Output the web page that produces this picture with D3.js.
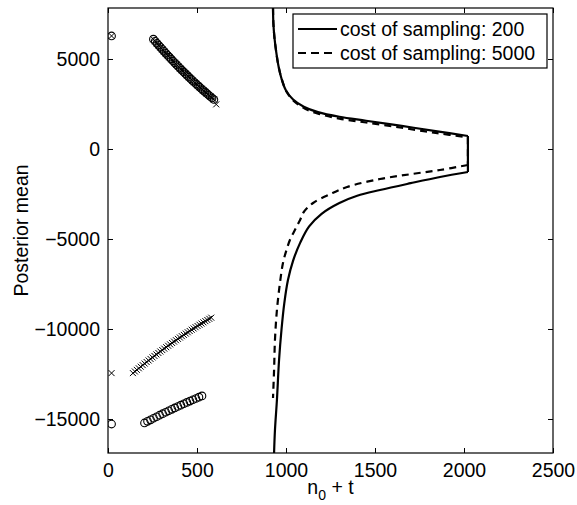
<!DOCTYPE html>
<html><head><meta charset="utf-8">
<script src="https://cdn.jsdelivr.net/npm/d3@7"></script>
<style>body{margin:0;background:#fff}svg{display:block}</style>
</head><body>
<script>
// ---- data ----
const xTicks = [0, 500, 1000, 1500, 2000, 2500];
const yTicks = [-15000, -10000, -5000, 0, 5000];
const xDomain = [0, 2500];
const yDomain = [-16889, 7833];

// solid line: cost of sampling 200 (upper branch, then lower branch; joined by a vertical segment)
const solidUpX = [927, 929, 935, 945, 958, 975, 1000, 1040, 1100, 1180, 1300, 1450, 1650, 1850, 2022];
const solidUpY = [7833, 7000, 6200, 5400, 4600, 3900, 3250, 2750, 2350, 2050, 1790, 1570, 1280, 980, 722];
const solidLoX = [2022, 1865, 1700, 1528, 1400, 1300, 1200, 1130, 1080, 1040, 1011, 990, 975, 961, 949, 938, 933];
const solidLoY = [-1278, -1556, -1900, -2278, -2600, -3000, -3600, -4300, -5200, -6200, -7278, -8600, -10000, -11722, -13944, -15611, -16889];
// dashed line: cost of sampling 5000
const dashUpX = [927, 929, 935, 945, 958, 977, 1003, 1045, 1105, 1185, 1300, 1450, 1650, 1850, 2022];
const dashUpY = [7833, 7000, 6200, 5400, 4600, 3850, 3180, 2660, 2250, 1950, 1690, 1470, 1180, 880, 650];
const dashLoX = [2022, 1865, 1700, 1528, 1343, 1250, 1152, 1100, 1079, 1050, 1022, 1000, 983, 966, 949, 938, 933, 927];
const dashLoY = [-889, -1167, -1400, -1667, -2111, -2500, -3000, -3500, -3944, -4500, -5056, -5700, -6333, -7444, -8944, -10611, -12278, -13833];

// circle markers
const circX = [20, 255, 265, 275, 285, 295, 305, 315, 325, 335, 345, 355, 365, 375, 385, 395, 405, 415, 425, 435, 445, 455, 465, 475, 485, 495, 505, 515, 525, 535, 545, 555, 565, 575, 585, 595,
  20, 205, 222, 239, 256, 273, 290, 307, 324, 341, 358, 375, 392, 409, 426, 443, 460, 477, 494, 511, 528];
const circY = [6280, 6100, 5985, 5871, 5758, 5646, 5535, 5425, 5316, 5208, 5101, 4995, 4890, 4786, 4683, 4581, 4480, 4380, 4281, 4183, 4086, 3990, 3895, 3801, 3708, 3616, 3525, 3435, 3346, 3258, 3171, 3085, 3000, 2916, 2833, 2751,
  -15280, -15220, -15132, -15045, -14959, -14874, -14790, -14707, -14625, -14544, -14464, -14385, -14307, -14230, -14154, -14079, -14005, -13932, -13860, -13789, -13719];

// cross markers
const crossX = [20, 255, 265, 275, 285, 295, 305, 315, 325, 335, 345, 355, 365, 375, 385, 395, 405, 415, 425, 435, 445, 455, 465, 475, 485, 495, 505, 515, 525, 535, 545, 555, 565, 575, 585, 595, 608,
  20, 140, 151, 162, 173, 184, 195, 206, 217, 228, 239, 250, 261, 272, 283, 294, 305, 316, 327, 338, 349, 360, 371, 382, 393, 404, 415, 426, 437, 448, 459, 470, 481, 492, 503, 514, 525, 536, 547, 558, 569, 580];
const crossY = [6280, 6100, 5985, 5871, 5758, 5646, 5535, 5425, 5316, 5208, 5101, 4995, 4890, 4786, 4683, 4581, 4480, 4380, 4281, 4183, 4086, 3990, 3895, 3801, 3708, 3616, 3525, 3435, 3346, 3258, 3171, 3085, 3000, 2916, 2833, 2751, 2480,
  -12450, -12450, -12360, -12271, -12182, -12094, -12007, -11920, -11834, -11749, -11664, -11580, -11497, -11414, -11332, -11251, -11170, -11090, -11011, -10932, -10854, -10777, -10700, -10624, -10549, -10474, -10400, -10327, -10254, -10182, -10111, -10040, -9970, -9901, -9832, -9764, -9697, -9630, -9564, -9499, -9434, -9370];

const legendLabels = ["cost of sampling: 200", "cost of sampling: 5000"];

// ---- drawing ----
const W = 577, H = 505;
const L = 108, R = 553, T = 8, B = 453;
const font = "'Liberation Sans', Arial, Helvetica, sans-serif";
const fs = 19.5;

const svg = d3.select("body").append("svg").attr("width", W).attr("height", H);
const x = d3.scaleLinear().domain(xDomain).range([L, R]);
const y = d3.scaleLinear().domain(yDomain).range([B, T]);

svg.append("clipPath").attr("id", "c").append("rect")
  .attr("x", L).attr("y", T).attr("width", R - L).attr("height", B - T);
const g = svg.append("g").attr("clip-path", "url(#c)");

const zip = (a, b) => a.map((v, i) => [v, b[i]]);
const smooth = d3.line().x(d => x(d[0])).y(d => y(d[1])).curve(d3.curveCatmullRom.alpha(0.5));
const straight = d3.line().x(d => x(d[0])).y(d => y(d[1]));
function branchPath(upX, upY, loX, loY) {
  const up = zip(upX, upY), lo = zip(loX, loY);
  return smooth(up) + straight([up[up.length - 1], lo[0]]) + smooth(lo);
}

g.append("path").attr("d", branchPath(solidUpX, solidUpY, solidLoX, solidLoY))
  .attr("fill", "none").attr("stroke", "#000").attr("stroke-width", 2.2).attr("stroke-linejoin", "round");
g.append("path").attr("d", branchPath(dashUpX, dashUpY, dashLoX, dashLoY))
  .attr("fill", "none").attr("stroke", "#000").attr("stroke-width", 2.2).attr("stroke-dasharray", "7,5");

g.selectAll("circle.m").data(zip(circX, circY)).enter().append("circle")
  .attr("cx", d => x(d[0])).attr("cy", d => y(d[1])).attr("r", 3.8)
  .attr("fill", "none").attr("stroke", "#000").attr("stroke-width", 1.1);

const cs = 3;
g.selectAll("path.x").data(zip(crossX, crossY)).enter().append("path")
  .attr("d", d => { const cx = x(d[0]), cy = y(d[1]);
    return `M${cx - cs},${cy - cs}L${cx + cs},${cy + cs}M${cx - cs},${cy + cs}L${cx + cs},${cy - cs}`; })
  .attr("stroke", "#000").attr("stroke-width", 1).attr("fill", "none");

// axes (MATLAB style: inward ticks on all four sides)
const fmt = d => d < 0 ? "\u2212" + Math.abs(d) : String(d);
const tl = 5;
const axB = svg.append("g").attr("transform", `translate(0,${B})`)
  .call(d3.axisBottom(x).tickValues(xTicks).tickSize(-tl).tickPadding(tl + 5).tickFormat(fmt));
const axT = svg.append("g").attr("transform", `translate(0,${T})`)
  .call(d3.axisTop(x).tickValues(xTicks).tickSize(-tl).tickFormat(""));
const axL = svg.append("g").attr("transform", `translate(${L},0)`)
  .call(d3.axisLeft(y).tickValues(yTicks).tickSize(-tl).tickPadding(tl + 3).tickFormat(fmt));
const axR = svg.append("g").attr("transform", `translate(${R},0)`)
  .call(d3.axisRight(y).tickValues(yTicks).tickSize(-tl).tickFormat(""));
[axB, axT, axL, axR].forEach(a => {
  a.select(".domain").remove();
  a.selectAll("line").attr("stroke", "#000").attr("stroke-width", 1);
  a.selectAll("text").attr("font-family", font).attr("font-size", fs).attr("fill", "#000");
});
svg.append("rect").attr("x", L).attr("y", T).attr("width", R - L).attr("height", B - T)
  .attr("fill", "none").attr("stroke", "#000").attr("stroke-width", 1.2);

// axis labels
const xl = svg.append("text").attr("x", (L + R) / 2).attr("y", 494)
  .attr("text-anchor", "middle").attr("font-family", font).attr("font-size", fs);
xl.append("tspan").text("n");
xl.append("tspan").attr("font-size", 14).attr("dy", 6).text("0");
xl.append("tspan").attr("dy", -6).text(" + t");

svg.append("text").attr("transform", `translate(28,${(T + B) / 2}) rotate(-90)`)
  .attr("text-anchor", "middle").attr("font-family", font).attr("font-size", fs)
  .text("Posterior mean");

// legend
const lg = svg.append("g");
lg.append("rect").attr("x", 293).attr("y", 14).attr("width", 254).attr("height", 54)
  .attr("fill", "#fff").attr("stroke", "#000").attr("stroke-width", 1.2);
const rows = [29, 53];
legendLabels.forEach((t, i) => {
  lg.append("line").attr("x1", 298).attr("x2", 337).attr("y1", rows[i]).attr("y2", rows[i])
    .attr("stroke", "#000").attr("stroke-width", 2.2)
    .attr("stroke-dasharray", i === 1 ? "8,5" : null);
  lg.append("text").attr("x", 340).attr("y", rows[i]).attr("dy", "0.35em")
    .attr("font-family", font).attr("font-size", fs).text(t);
});
</script>
</body></html>
